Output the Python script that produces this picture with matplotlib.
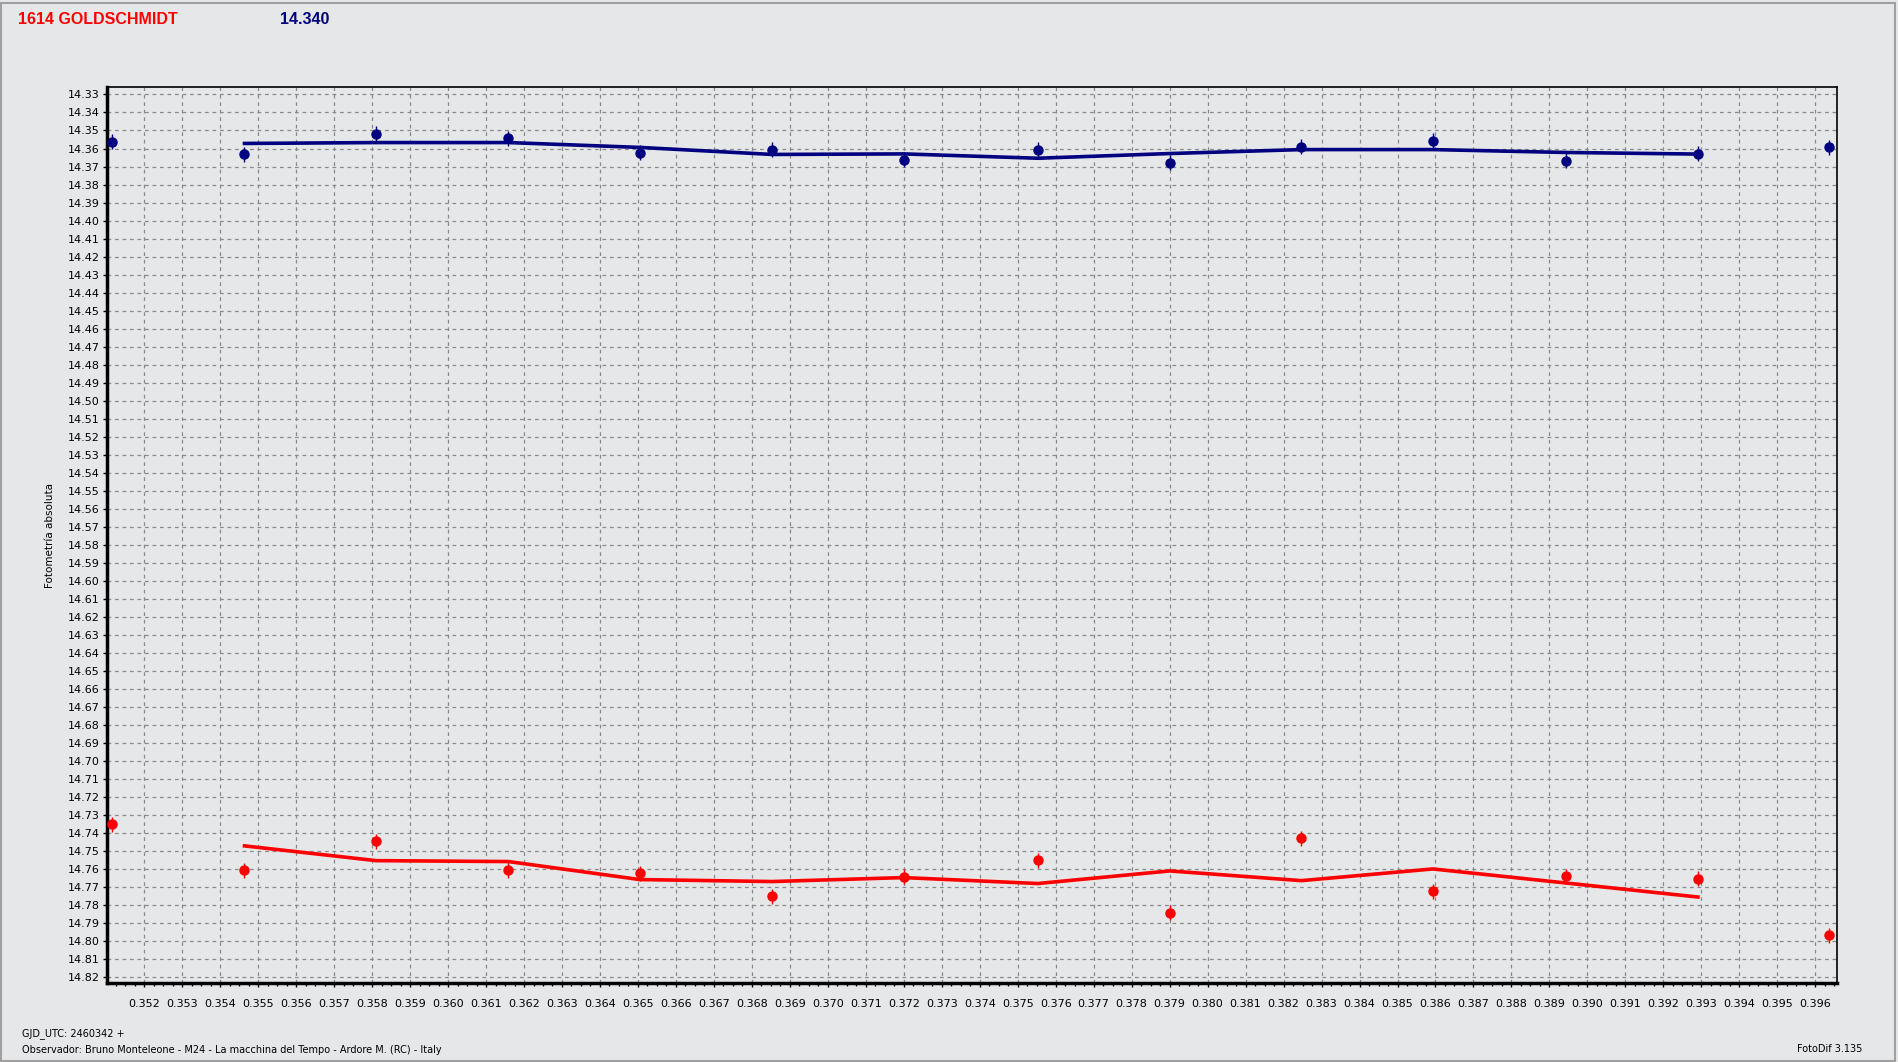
import matplotlib.pyplot as plt
from matplotlib.ticker import MultipleLocator, FormatStrFormatter
from matplotlib.patches import Rectangle

# GJD_UTC - 2460342
jd = [0.35116, 0.35464, 0.35811, 0.36159, 0.36505, 0.36853, 0.37200,
      0.37553, 0.37900, 0.38247, 0.38593, 0.38943, 0.39291, 0.39636]

mag_blue = [14.3563, 14.3631, 14.3519, 14.3544, 14.3624, 14.3606, 14.3663,
            14.3606, 14.3680, 14.3591, 14.3557, 14.3669, 14.3628, 14.3594]
mag_red = [14.7352, 14.7607, 14.7446, 14.7606, 14.7624, 14.7752, 14.7643,
           14.7552, 14.7843, 14.7431, 14.7724, 14.7641, 14.7654, 14.7969]

# smoothed curves (points 2..13)
fit_blue = [14.3572, 14.3567, 14.3567, 14.3594, 14.3633, 14.3630,
            14.3654, 14.3628, 14.3606, 14.3606, 14.3622, 14.3631]
fit_red = [14.7472, 14.7554, 14.7559, 14.7659, 14.7670, 14.7648,
           14.7681, 14.7611, 14.7665, 14.7600, 14.7678, 14.7756]

err = 0.0042
bg = '#e6e7e9'

fig = plt.figure(figsize=(18.98, 10.62), dpi=100, facecolor=bg)
ax = fig.add_axes([0.0562, 0.0741, 0.9118, 0.8439], facecolor=bg)
ax.set_axisbelow(True)

ax.errorbar(jd, mag_blue, yerr=err, fmt='o', color='#000080', markersize=6.5,
            elinewidth=1, capsize=0, zorder=3)
ax.errorbar(jd, mag_red, yerr=err, fmt='o', color='#ff0000', markersize=6.5,
            elinewidth=1, capsize=0, zorder=3)
ax.plot(jd[1:13], fit_blue, color='#000080', lw=2.6, zorder=2)
ax.plot(jd[1:13], fit_red, color='#ff0000', lw=2.6, zorder=2)

ax.set_xlim(0.351011, 0.396579)
ax.set_ylim(14.8235, 14.3259)

ax.xaxis.set_major_locator(MultipleLocator(0.001))
ax.xaxis.set_minor_locator(MultipleLocator(0.00025))
ax.xaxis.set_major_formatter(FormatStrFormatter('%.3f'))
ax.yaxis.set_major_locator(MultipleLocator(0.01))
ax.yaxis.set_major_formatter(FormatStrFormatter('%.2f'))

ax.grid(True, which='major', color='#8a8a8a', linestyle=(0, (3, 3)), lw=0.9)
ax.tick_params(axis='both', which='major', direction='out', length=3, width=1,
               labelsize=8, colors='black')
ax.tick_params(axis='x', which='major', pad=8)
ax.tick_params(axis='y', which='major', pad=2)
ax.tick_params(axis='x', which='minor', direction='out', length=2.5, width=1)

for s in ['left', 'bottom']:
    ax.spines[s].set_linewidth(2.5)
for s in ['top', 'right']:
    ax.spines[s].set_linewidth(1.2)

ax.set_ylabel('Fotometría absoluta', fontsize=7.5, labelpad=9)

fig.text(18 / 1898, 1 - 19 / 1062, '1614 GOLDSCHMIDT', color='#ff0000',
         fontsize=11.5, fontweight='bold', family='Liberation Sans', va='center')
fig.text(280 / 1898, 1 - 19 / 1062, '14.340', color='#000080',
         fontsize=11.5, fontweight='bold', family='Liberation Sans', va='center')

fig.text(22 / 1898, 1 - 1034 / 1062, 'GJD_UTC: 2460342 +', fontsize=7, va='center')
fig.text(22 / 1898, 1 - 1050 / 1062,
         'Observador: Bruno Monteleone - M24 - La macchina del Tempo - Ardore M. (RC) - Italy',
         fontsize=7, va='center')
fig.text(1862 / 1898, 1 - 1049 / 1062, 'FotoDif 3.135', fontsize=7,
         va='center', ha='right')

fig.patches.append(Rectangle((1 / 1898, 1 / 1062), 1894 / 1898, 1058 / 1062,
                             transform=fig.transFigure, fill=False,
                             edgecolor='#a0a0a0', lw=1.5))

fig.savefig('out.png', dpi=100, facecolor=bg)
